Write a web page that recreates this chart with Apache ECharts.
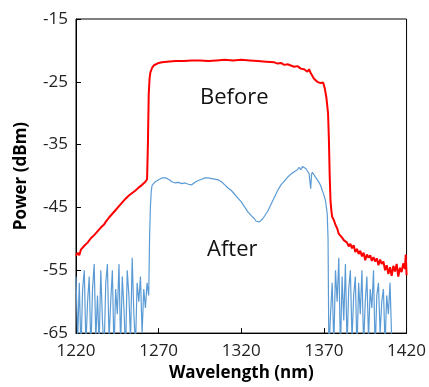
<!DOCTYPE html>
<html><head><meta charset="utf-8">
<script src="https://cdn.jsdelivr.net/npm/echarts@6/dist/echarts.min.js"></script>
<style>html,body{margin:0;padding:0;background:#fff}#c{width:429px;height:387px}</style>
</head><body><div id="c"></div>
<script>
var xTicks = [1220, 1270, 1320, 1370, 1420];
var yTicks = [-65, -55, -45, -35, -25, -15];
var xTitle = 'Wavelength (nm)';
var yTitle = 'Power (dBm)';

var beforeWl = [1220,1221,1222,1223,1224,1225,1226,1227,1228,1229,1230,1231,1232,1233,1234,1235,1236,1237,1238,1239,1240,1241,1242,1243,1244,1245,1246,1247,1248,1249,1250,1251,1252,1253,1254,1255,1256,1257,1258,1259,1260,1261,1262,1263,1263.5,1264,1264.5,1265,1266,1267,1268,1270,1272,1275,1280,1285,1290,1295,1300,1305,1310,1315,1320,1325,1330,1335,1340,1342,1344,1346,1348,1350,1352,1354,1356,1358,1360,1361,1362,1363,1364,1365,1366,1367,1368,1369.5,1370.5,1371.5,1372.5,1373,1373.5,1374,1374.5,1375,1376,1377,1378,1379,1380,1381,1382,1383,1384,1385,1386,1387,1388,1389,1390,1391,1392,1393,1394,1395,1396,1397,1398,1399,1400,1401,1402,1403,1404,1405,1406,1407,1408,1409,1410,1411,1412,1413,1414,1415,1416,1417,1418,1419,1419.5,1420];
var beforePw = [-52.7,-52.2,-52.6,-51.7,-51.9,-51.1,-51.2,-50.6,-50.7,-49.9,-50.0,-49.4,-49.3,-48.8,-48.9,-48.2,-48.0,-47.7,-47.3,-47.1,-46.6,-46.5,-46.0,-45.9,-45.4,-45.3,-44.8,-44.7,-44.2,-44.1,-43.6,-43.6,-43.1,-42.9,-42.7,-42.4,-42.3,-42.0,-41.8,-41.6,-41.4,-41.2,-40.9,-40.5,-35,-27,-24.5,-23.5,-22.8,-22.4,-22.2,-22.0,-21.9,-21.8,-21.7,-21.7,-21.6,-21.6,-21.7,-21.6,-21.5,-21.6,-21.5,-21.6,-21.7,-21.8,-21.9,-22.1,-22.0,-22.3,-22.2,-22.4,-22.6,-22.5,-22.9,-23.0,-23.4,-23.0,-23.6,-23.9,-24.5,-24.2,-25.0,-25.0,-25.2,-25.1,-26.0,-27.5,-30,-34,-40,-44,-45.5,-46.5,-47.0,-47.8,-48.3,-49.2,-48.9,-49.8,-50.2,-49.9,-50.6,-51.2,-50.8,-51.5,-51.0,-52.1,-51.6,-52.4,-51.9,-52.8,-52.2,-53.4,-52.5,-53.0,-52.6,-53.5,-52.9,-53.6,-53.1,-54.2,-53.3,-54.0,-53.6,-55.0,-54.2,-55.6,-54.5,-55.9,-54.3,-55.2,-54.0,-56.0,-54.6,-55.3,-53.9,-54.8,-52.5,-55.8];

var afterWl = [1220,1221,1222,1223,1224,1225,1226,1227,1228,1229,1230,1231,1232,1233,1234,1235,1236,1237,1238,1239,1240,1241,1242,1243,1244,1245,1246,1247,1248,1249,1250,1251,1252,1253,1254,1255,1256,1257,1258,1259,1260,1261,1262,1263,1264,1264.5,1265,1265.5,1266,1267,1268,1269,1270,1271,1272,1273,1274,1275,1276,1277,1278,1279,1280,1282,1284,1286,1288,1290,1292,1294,1296,1298,1300,1302,1304,1306,1308,1310,1312,1314,1316,1318,1320,1322,1324,1326,1328,1329,1330,1331,1332,1333,1334,1336,1338,1340,1342,1344,1346,1348,1350,1352,1354,1355,1356,1357,1358,1359,1360,1361,1362,1362.5,1363,1364,1365,1366,1367,1368,1369,1370,1371,1372,1372.5,1373,1374,1375,1376,1377,1378,1379,1380,1381,1382,1383,1384,1385,1386,1387,1388,1389,1390,1391,1392,1393,1394,1395,1396,1397,1398,1399,1400,1401,1402,1403,1404,1405,1406,1407,1408,1409,1410,1411,1412];
var afterPw = [-56,-66,-57,-68,-58,-55,-67,-60,-56,-68,-58,-54,-66,-59,-67,-55,-63,-68,-57,-54,-66,-60,-55,-68,-58,-62,-54,-67,-56,-61,-68,-55,-59,-66,-53,-62,-67,-57,-60,-56,-65,-58,-61,-57,-59,-50,-45,-42.5,-41.5,-41.2,-40.9,-40.7,-40.6,-40.4,-40.3,-40.2,-40.3,-40.4,-40.5,-40.7,-40.9,-41.0,-41.1,-41.0,-41.2,-41.1,-41.3,-41.4,-41.0,-40.7,-40.5,-40.3,-40.3,-40.4,-40.5,-40.6,-40.9,-41.4,-41.9,-42.3,-42.9,-43.5,-44.1,-44.9,-45.7,-46.3,-46.8,-47.2,-46.9,-47.3,-47.0,-46.8,-46.4,-45.6,-44.5,-43.4,-42.3,-41.4,-40.8,-40.2,-39.7,-39.3,-39.0,-38.6,-39.0,-38.5,-38.4,-38.8,-39.2,-39.6,-42.0,-39.8,-39.4,-39.6,-40.2,-40.5,-41.0,-41.5,-42.3,-43.0,-44.0,-46.0,-50,-68,-62,-57,-67,-55,-60,-53,-68,-56,-63,-54,-67,-58,-55,-66,-59,-56,-68,-57,-62,-55,-67,-60,-56,-66,-58,-61,-55,-68,-59,-57,-65,-60,-58,-67,-59,-62,-57,-66,-68];

function zip(a, b) { return a.map(function (v, i) { return [v, b[i]]; }); }

var FONT = 'Open Sans';
var chart = echarts.init(document.getElementById('c'));
chart.setOption({
  animation: false,
  backgroundColor: '#fff',
  grid: { left: 76, top: 19, right: 20, bottom: 52, show: true, borderColor: '#000', borderWidth: 1 },
  xAxis: {
    type: 'value', min: xTicks[0], max: xTicks[xTicks.length - 1], interval: 50,
    name: xTitle, nameLocation: 'middle', nameGap: 30,
    nameTextStyle: { fontFamily: FONT, fontSize: 17, fontWeight: 'bold', color: '#000' },
    axisLine: { show: true, onZero: false, lineStyle: { color: '#000', width: 1 } },
    axisTick: { show: true, inside: true, length: 5, lineStyle: { color: '#000', width: 1 } },
    axisLabel: { fontFamily: FONT, fontSize: 17, color: '#222', margin: 10,
      formatter: function (v) { return String(v); } },
    splitLine: { show: false }
  },
  yAxis: {
    type: 'value', min: yTicks[0], max: yTicks[yTicks.length - 1], interval: 10,
    name: yTitle, nameLocation: 'middle', nameGap: 46, nameRotate: 90,
    nameTextStyle: { fontFamily: FONT, fontSize: 17, fontWeight: 'bold', color: '#000' },
    axisLine: { show: true, onZero: false, lineStyle: { color: '#000', width: 1 } },
    axisTick: { show: true, inside: true, length: 5, lineStyle: { color: '#000', width: 1 } },
    axisLabel: { fontFamily: FONT, fontSize: 17, color: '#222', margin: 8 },
    splitLine: { show: false }
  },
  series: [
    { name: 'After', type: 'line', data: zip(afterWl, afterPw), showSymbol: false, clip: true,
      lineStyle: { color: '#5b9bd5', width: 1.2 } },
    { name: 'Before', type: 'line', data: zip(beforeWl, beforePw), showSymbol: false, clip: true,
      lineStyle: { color: '#ff0000', width: 2 } }
  ],
  graphic: [
    { type: 'text', left: 200, top: 87, style: { text: 'Before', fontFamily: FONT, fontSize: 22, fill: '#111' } },
    { type: 'text', left: 207, top: 239, style: { text: 'After', fontFamily: FONT, fontSize: 22, fill: '#111' } }
  ]
});
</script>
</body></html>
